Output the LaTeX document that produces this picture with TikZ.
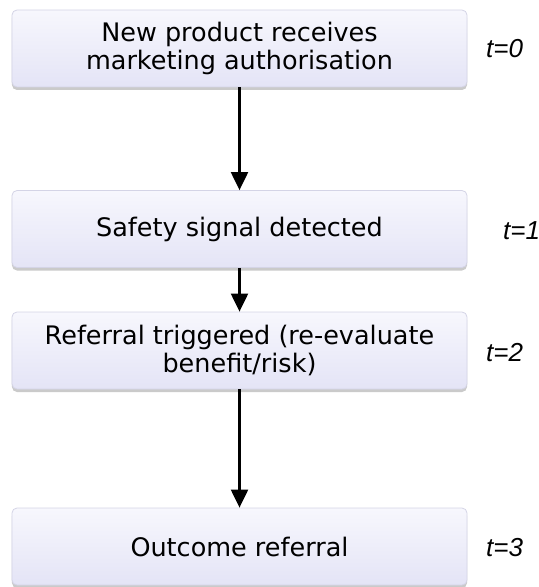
\documentclass[tikz,border=0pt]{standalone}
\usepackage{fontspec}
\setmainfont{DejaVu Sans}
\newfontfamily\labfont{Liberation Sans}
\usetikzlibrary{arrows.meta,shadows}
\definecolor{boxtop}{HTML}{F7F7FD}
\definecolor{boxbot}{HTML}{E4E4F6}
\definecolor{boxedge}{HTML}{D4D4E6}
\tikzset{
  stepbox/.style={rectangle, rounded corners=5bp, draw=boxedge, line width=0.8bp,
    top color=boxtop, bottom color=boxbot,
    drop shadow={shadow xshift=0bp, shadow yshift=-3bp, opacity=0.35, fill=black!60},
    minimum width=455bp, minimum height=77bp, align=center,
    font=\fontsize{25.5bp}{28.5bp}\selectfont, inner sep=0pt},
  tlab/.style={anchor=west, font=\labfont\itshape\fontsize{26bp}{28bp}\selectfont, inner sep=0pt},
  flow/.style={line width=2.2bp, -{Triangle[length=18bp,width=17bp]}}
}
\begin{document}
\begin{tikzpicture}[x=1bp,y=-1bp]
\useasboundingbox (0,0) rectangle (539,587);
\node[stepbox] (b1) at (239.5,48.5) {New product receives\\marketing authorisation};
\node[stepbox] (b2) at (239.5,229) {Safety signal detected};
\node[stepbox] (b3) at (239.5,350.5) {Referral triggered (re-evaluate\\benefit/risk)};
\node[stepbox] (b4) at (239.5,546.5) {Outcome referral};
\node[tlab] (t0) at (486,48.5) {t=0};
\node[tlab] (t1) at (503,231) {t=1};
\node[tlab] (t2) at (486,353) {t=2};
\node[tlab] (t3) at (486,548) {t=3};
\draw[flow] (b1.south) -- (b2.north);
\draw[flow] (b2.south) -- (b3.north);
\draw[flow] (b3.south) -- (b4.north);
\end{tikzpicture}
\end{document}
